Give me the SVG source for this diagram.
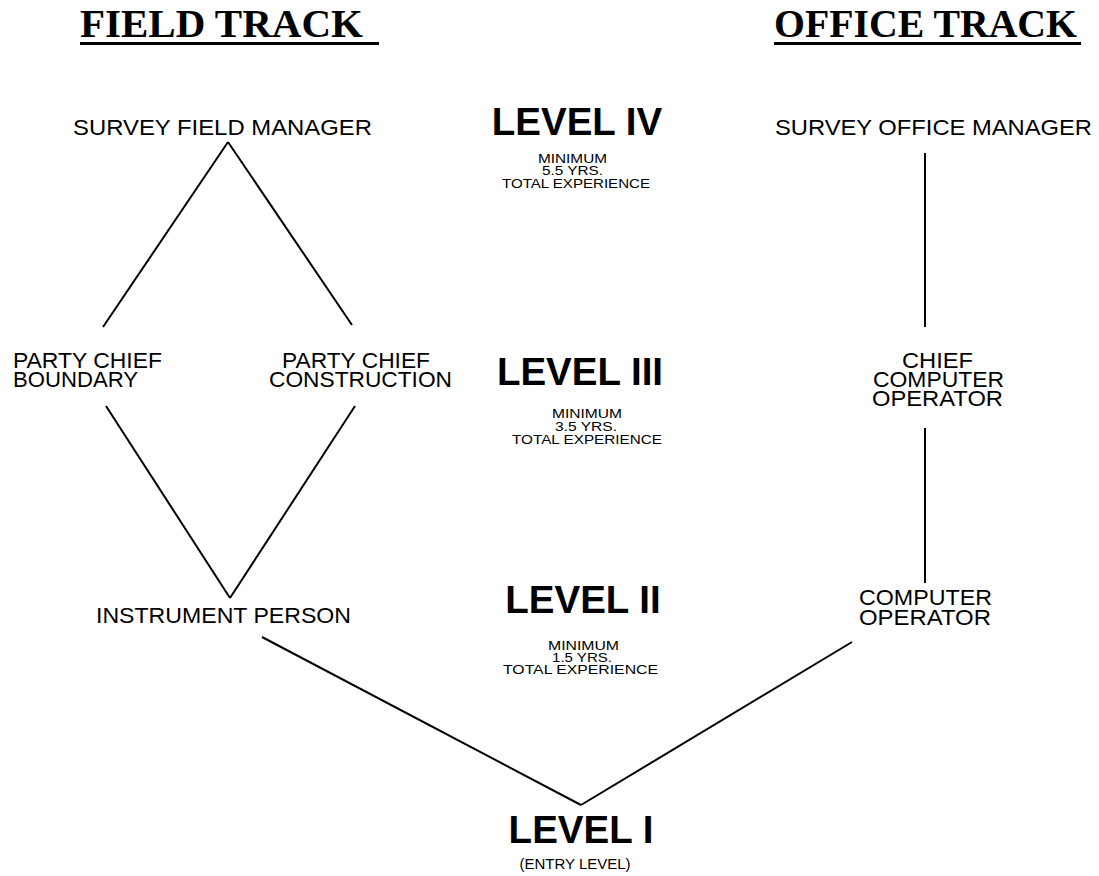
<svg xmlns="http://www.w3.org/2000/svg" width="1099" height="876" viewBox="0 0 1099 876">
<style>
.title{font-family:"Liberation Serif","Times New Roman",serif;font-weight:bold;font-size:41px;fill:#000}
.node{font-family:"Liberation Sans",Arial,sans-serif;font-size:22px;fill:#000}
.level{font-family:"Liberation Sans",Arial,sans-serif;font-weight:bold;font-size:38.5px;fill:#000;text-anchor:middle}
.small{font-family:"Liberation Sans",Arial,sans-serif;font-size:13px;fill:#000}
.entry{font-family:"Liberation Sans",Arial,sans-serif;font-size:15px;fill:#000;text-anchor:middle}
.conn line{stroke:#000;stroke-width:2;stroke-linecap:butt}
.ul{stroke:#000;stroke-width:3}
</style>
<rect width="1099" height="876" fill="#fff"/>
<g id="title-field">
<text class="title" x="80" y="37">FIELD TRACK</text>
<line class="ul" x1="80" y1="43.5" x2="379" y2="43.5"/>
</g>
<g id="title-office">
<text class="title" x="774" y="37" textLength="303" lengthAdjust="spacingAndGlyphs">OFFICE TRACK</text>
<line class="ul" x1="774" y1="43.5" x2="1081" y2="43.5"/>
</g>
<g class="conn" id="connectors">
<line x1="228" y1="142" x2="103" y2="327"/>
<line x1="228" y1="142" x2="352" y2="325"/>
<line x1="106" y1="406" x2="230" y2="598"/>
<line x1="355" y1="406" x2="230" y2="598"/>
<line x1="925" y1="153" x2="925" y2="327"/>
<line x1="925" y1="428" x2="925" y2="583"/>
<line x1="262" y1="637" x2="581" y2="805"/>
<line x1="852" y1="642" x2="581" y2="805"/>
</g>
<g id="survey-field-manager">
<text class="node" x="73" y="135" textLength="299" lengthAdjust="spacingAndGlyphs">SURVEY FIELD MANAGER</text>
</g>
<g id="survey-office-manager">
<text class="node" x="775" y="135" textLength="317" lengthAdjust="spacingAndGlyphs">SURVEY OFFICE MANAGER</text>
</g>
<g id="party-chief-boundary">
<text class="node" x="13" y="368" textLength="149" lengthAdjust="spacingAndGlyphs">PARTY CHIEF</text>
<text class="node" x="13" y="387" textLength="125" lengthAdjust="spacingAndGlyphs">BOUNDARY</text>
</g>
<g id="party-chief-construction">
<text class="node" x="282" y="368" textLength="148" lengthAdjust="spacingAndGlyphs">PARTY CHIEF</text>
<text class="node" x="269" y="387" textLength="183" lengthAdjust="spacingAndGlyphs">CONSTRUCTION</text>
</g>
<g id="chief-computer-operator">
<text class="node" x="902" y="368" textLength="71" lengthAdjust="spacingAndGlyphs">CHIEF</text>
<text class="node" x="873" y="387" textLength="131" lengthAdjust="spacingAndGlyphs">COMPUTER</text>
<text class="node" x="872" y="406" textLength="131" lengthAdjust="spacingAndGlyphs">OPERATOR</text>
</g>
<g id="instrument-person">
<text class="node" x="96" y="623" textLength="255" lengthAdjust="spacingAndGlyphs">INSTRUMENT PERSON</text>
</g>
<g id="computer-operator">
<text class="node" x="859" y="605" textLength="133" lengthAdjust="spacingAndGlyphs">COMPUTER</text>
<text class="node" x="859" y="625" textLength="132" lengthAdjust="spacingAndGlyphs">OPERATOR</text>
</g>
<g id="level-4">
<text class="level" x="577" y="135">LEVEL IV</text>
<text class="small" x="538" y="163" textLength="69" lengthAdjust="spacingAndGlyphs">MINIMUM</text>
<text class="small" x="542" y="175" textLength="61" lengthAdjust="spacingAndGlyphs">5.5 YRS.</text>
<text class="small" x="502" y="188" textLength="148" lengthAdjust="spacingAndGlyphs">TOTAL EXPERIENCE</text>
</g>
<g id="level-3">
<text class="level" x="580" y="385">LEVEL III</text>
<text class="small" x="552" y="418" textLength="70" lengthAdjust="spacingAndGlyphs">MINIMUM</text>
<text class="small" x="555" y="431" textLength="62" lengthAdjust="spacingAndGlyphs">3.5 YRS.</text>
<text class="small" x="512" y="444" textLength="150" lengthAdjust="spacingAndGlyphs">TOTAL EXPERIENCE</text>
</g>
<g id="level-2">
<text class="level" x="583" y="613">LEVEL II</text>
<text class="small" x="548" y="650" textLength="71" lengthAdjust="spacingAndGlyphs">MINIMUM</text>
<text class="small" x="552" y="662" textLength="60" lengthAdjust="spacingAndGlyphs">1.5 YRS.</text>
<text class="small" x="503" y="674" textLength="155" lengthAdjust="spacingAndGlyphs">TOTAL EXPERIENCE</text>
</g>
<g id="level-1">
<text class="level" x="581" y="843">LEVEL I</text>
<text class="entry" x="575" y="869">(ENTRY LEVEL)</text>
</g>
</svg>
